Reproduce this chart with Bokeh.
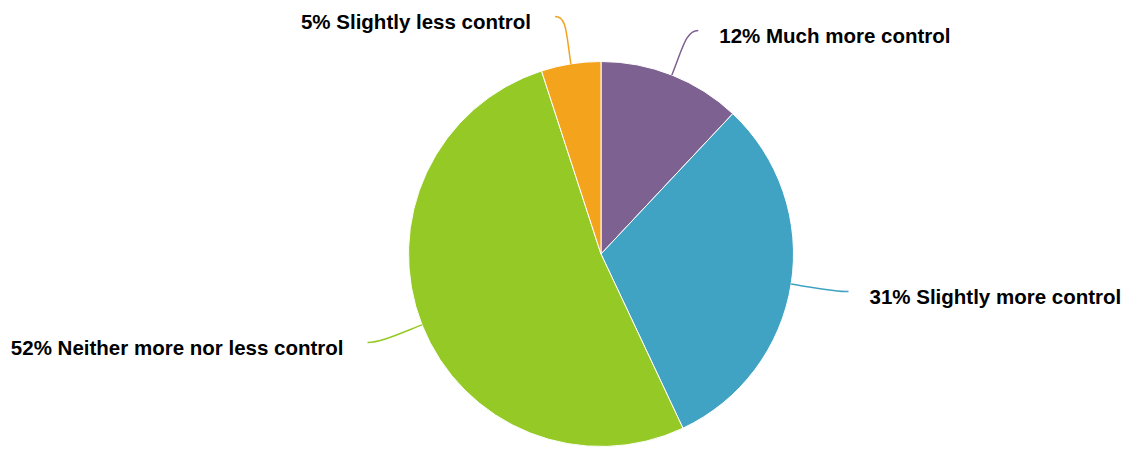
import math

from bokeh.plotting import figure
from bokeh.models import Range1d, ColumnDataSource
from bokeh.core.properties import value
from bokeh.embed import file_html
from bokeh.resources import INLINE

# Survey answers, clockwise from 12 o'clock
categories = ["Much more control", "Slightly more control",
              "Neither more nor less control", "Slightly less control"]
shares = [12, 31, 52, 5]
colors = ["#7D6190", "#40A3C3", "#95C925", "#F4A31C"]

W, H = 1125, 451
CX, CY, R = 600.5, H - 253.5, 192.5

p = figure(width=W, height=H, output_backend="svg", toolbar_location=None,
           x_range=Range1d(0, W), y_range=Range1d(0, H),
           min_border=0)
p.axis.visible = False
p.grid.visible = False
p.outline_line_color = None
p.background_fill_color = "white"
p.border_fill_color = "white"

total = float(sum(shares))
starts, ends, mids = [], [], []
acc = 0.0
for s in shares:
    a0 = acc / total * 2 * math.pi
    acc += s
    a1 = acc / total * 2 * math.pi
    starts.append(a0)
    ends.append(a1)
    mids.append((a0 + a1) / 2)

# clockwise-from-top angle -> bokeh angle
src = ColumnDataSource(dict(
    start=[math.pi / 2 - a for a in starts],
    end=[math.pi / 2 - a for a in ends],
    color=colors,
))
p.wedge(x=CX, y=CY, radius=R, start_angle="start", end_angle="end",
        direction="clock", fill_color="color", line_color="white",
        line_width=1, source=src)

# connectors and labels
for cat, s, col, m in zip(categories, shares, colors, mids):
    sx, cy_ = math.sin(m), math.cos(m)
    side = 1 if sx >= 0 else -1
    x0, y0 = CX + R * sx, CY + R * cy_
    xc, yc = CX + (R + 30) * sx, CY + (R + 30) * cy_
    x1 = CX + (R + 50) * sx + 8 * side
    y1 = CY + (R + 48) * cy_
    p.bezier(x0=[x0], y0=[y0], x1=[x1], y1=[y1],
             cx0=[xc], cy0=[yc], cx1=[x1 - 12 * side], cy1=[y1],
             line_color=col, line_width=1.5)
    gap = 21 if side > 0 else 24
    p.text(x=[x1 + gap * side], y=[y1 - 5], text=[f"{s}% {cat}"],
           text_font=value("Liberation Sans"), text_font_style="bold",
           text_font_size="20.5px", text_color="#000000",
           text_baseline="middle",
           text_align="left" if side > 0 else "right")

open("out.html", "w").write(file_html(p, INLINE))
